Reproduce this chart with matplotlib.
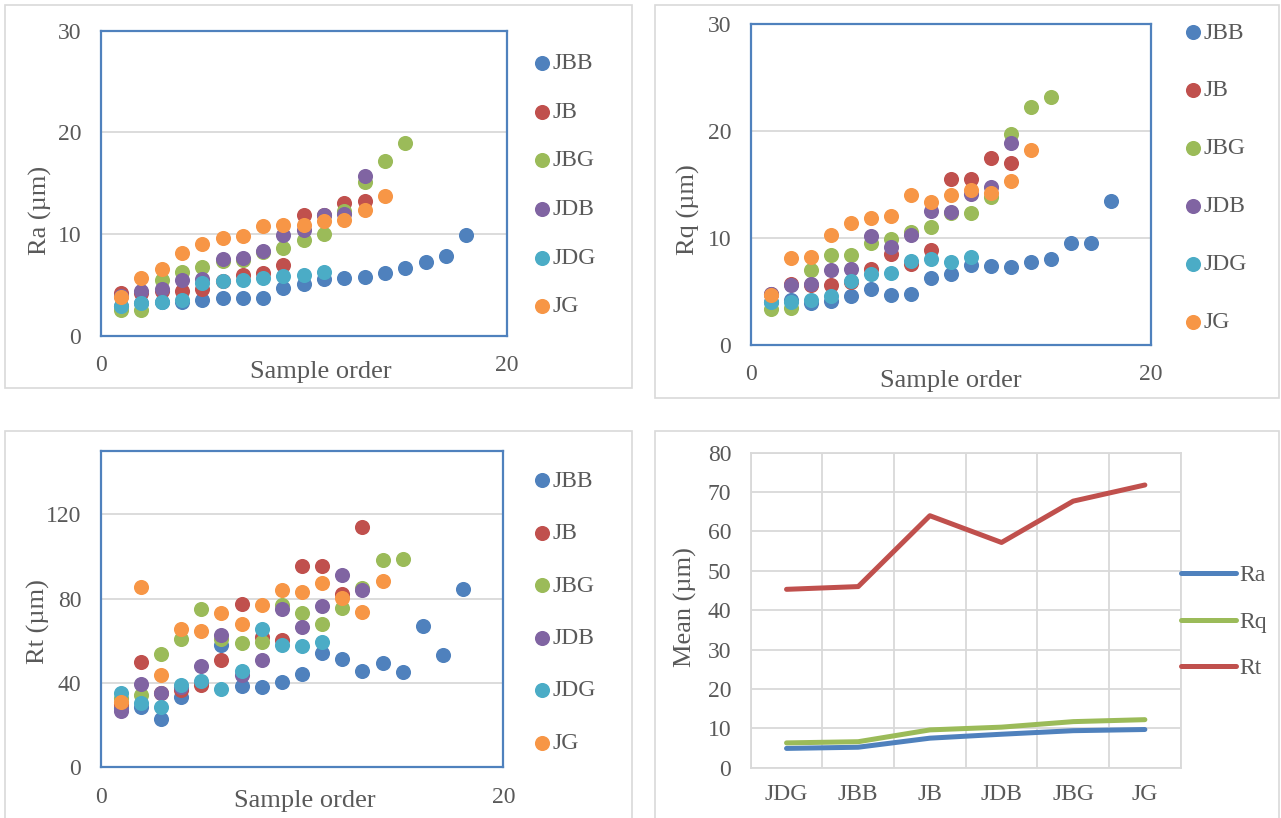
import matplotlib
matplotlib.use("Agg")
import matplotlib.pyplot as plt
from matplotlib.patches import Rectangle
import numpy as np

plt.rcParams['font.family'] = ['Liberation Serif', 'DejaVu Serif']

W, H = 1281, 818
GRAY = '#595959'
GRID = '#d9d9d9'
BOX = '#4f81bd'

groups = ["JBB", "JB", "JBG", "JDB", "JDG", "JG"]
colors = ["#4F81BD", "#C0504D", "#9BBB59", "#8064A2", "#4BACC6", "#F79646"]

# Ra per sample (sample order 1..n)
ra_jbb = [2.9, 3.2, 3.3, 3.3, 3.5, 3.7, 3.7, 3.7, 4.7, 5.1, 5.65, 5.7, 5.8, 6.2, 6.7, 7.25, 7.9, 9.9]
ra_jb = [4.2, 4.25, 4.4, 4.4, 4.6, 5.4, 6.0, 6.2, 7.0, 11.9, 11.9, 13.1, 13.3]
ra_jbg = [2.6, 2.6, 5.5, 6.3, 6.8, 7.4, 7.5, 8.3, 8.6, 9.4, 10.0, 12.25, 15.1, 17.2, 19.0]
ra_jdb = [3.9, 4.4, 4.6, 5.5, 5.65, 7.6, 7.7, 8.4, 9.9, 10.4, 11.9, 12.0, 15.7]
ra_jdg = [2.9, 3.2, 3.3, 3.5, 5.2, 5.4, 5.55, 5.7, 5.9, 6.0, 6.3]
ra_jg = [3.85, 5.7, 6.6, 8.2, 9.0, 9.6, 9.8, 10.8, 10.9, 10.95, 11.3, 11.4, 12.35, 13.75]

# Rq per sample
rq_jbb = [4.0, 4.2, 3.9, 4.1, 4.6, 5.2, 4.7, 4.8, 6.3, 6.6, 7.45, 7.4, 7.3, 7.8, 8.0, 9.5, 9.5, 13.5]
rq_jb = [4.8, 5.7, 5.6, 5.6, 5.9, 7.1, 8.5, 7.6, 8.85, 15.5, 15.5, 17.5, 17.0]
rq_jbg = [3.4, 3.5, 7.0, 8.4, 8.4, 9.5, 9.9, 10.6, 11.0, 12.3, 12.3, 13.8, 19.75, 22.2, 23.2]
rq_jdb = [4.8, 5.6, 5.7, 7.0, 7.1, 10.2, 9.2, 10.25, 12.5, 12.4, 14.1, 14.8, 18.9]
rq_jdg = [4.0, 4.0, 4.2, 4.6, 6.0, 6.6, 6.7, 7.85, 8.0, 7.75, 8.2]
rq_jg = [4.7, 8.1, 8.2, 10.3, 11.4, 11.9, 12.05, 14.05, 13.4, 14.0, 14.45, 14.2, 15.3, 18.2]

# Rt per sample
rt_jbb = [28, 28.8, 22.8, 33.5, 40.0, 58.0, 38.7, 38.3, 40.3, 44.1, 54.0, 51.2, 45.8, 49.6, 45.4, 67.2, 53.3, 84.5]
rt_jb = [30, 50.1, 35.0, 36.7, 39.0, 50.9, 77.4, 61.9, 60.6, 95.4, 95.4, 82.4, 114]
rt_jbg = [33, 34.3, 53.6, 60.8, 75.3, 60.7, 58.8, 59.2, 77.2, 73.0, 67.8, 75.7, 84.8, 98.2, 98.7]
rt_jdb = [26.9, 39.4, 35.1, 38.0, 48.0, 62.7, 43.8, 50.9, 74.9, 66.7, 76.4, 91.1, 84.0]
rt_jdg = [35.1, 30.4, 28.8, 39.1, 41.1, 37.0, 45.8, 65.4, 58.0, 57.5, 59.2]
rt_jg = [31.2, 85.6, 43.8, 65.4, 64.6, 73.0, 67.8, 77.2, 84.0, 83.2, 87.2, 80.1, 73.8, 88.4]

# means
mean_cats = ["JDG", "JBB", "JB", "JDB", "JBG", "JG"]
mean_ra = [4.9, 5.2, 7.5, 8.5, 9.4, 9.7]
mean_rq = [6.3, 6.6, 9.6, 10.3, 11.7, 12.2]
mean_rt = [45.3, 46.0, 64.0, 57.2, 67.7, 71.8]

fig = plt.figure(figsize=(W / 100, H / 100), dpi=100)


def px_axes(l, t, r, b):
    return fig.add_axes([l / W, 1 - b / H, (r - l) / W, (b - t) / H])


def panel(l, t, r, b):
    fig.patches.append(Rectangle((l / W, 1 - b / H), (r - l) / W, (b - t) / H,
                                 transform=fig.transFigure, fill=False,
                                 edgecolor=GRID, lw=1.2))


panel(4.5, 4.5, 631.5, 388.5)
panel(655, 4.5, 1279, 397.5)
panel(4.5, 431, 631.5, 822)
panel(655, 431, 1279, 822)


def scatter_panel(box, series, ymax, yticks, ylabel, ylab_xy, xlab_xy, leg_x, leg_y, spacing):
    l, t, r, b = box
    ax = px_axes(l, t, r, b)
    for name, vals, c in zip(groups, series, colors):
        x = np.arange(1, len(vals) + 1)
        ax.scatter(x, vals, s=118, color=c, linewidths=0, label=name, zorder=3)
    ax.set_xlim(0, 20)
    ax.set_ylim(0, ymax)
    ax.set_xticks([0, 20])
    ax.set_yticks(yticks)
    ax.yaxis.grid(True, color=GRID, lw=1.3, zorder=0)
    ax.set_axisbelow(True)
    for s in ax.spines.values():
        s.set_color(BOX)
        s.set_linewidth(1.6)
    ax.tick_params(length=0, labelsize=17, labelcolor=GRAY, pad=14)
    ax.set_ylabel(ylabel, fontsize=19, color=GRAY, va='center')
    ax.yaxis.set_label_coords((ylab_xy[0] - l) / (r - l), (b - ylab_xy[1]) / (b - t))
    ax.set_xlabel("Sample order", fontsize=19, color=GRAY, va='center')
    ax.xaxis.set_label_coords((xlab_xy[0] - l) / (r - l), (b - xlab_xy[1]) / (b - t))
    ax.legend(loc='center left', bbox_to_anchor=(leg_x / W, 1 - leg_y / H),
              bbox_transform=fig.transFigure, frameon=False, fontsize=17,
              labelcolor=GRAY, handlelength=0.7, handletextpad=0.1,
              labelspacing=spacing, borderpad=0, borderaxespad=0, scatterpoints=1)
    return ax


scatter_panel((100.7, 30.7, 506.7, 336),
              [ra_jbb, ra_jb, ra_jbg, ra_jdb, ra_jdg, ra_jg],
              30, [0, 10, 20, 30], "Ra (µm)", (40, 210), (321, 372), 533.4, 185, 1.15)
scatter_panel((750.7, 24, 1151, 345),
              [rq_jbb, rq_jb, rq_jbg, rq_jdb, rq_jdg, rq_jg],
              30, [0, 10, 20, 30], "Rq (µm)", (688, 210), (951, 381), 1184.4, 177.5, 1.54)
scatter_panel((100.7, 451, 503.3, 767.3),
              [rt_jbb, rt_jb, rt_jbg, rt_jdb, rt_jdg, rt_jg],
              150, [0, 40, 80, 120], "Rt (µm)", (38, 622), (305, 801), 533.4, 612, 1.31)

# mean line chart
l, t, r, b = 750.7, 452.7, 1180.7, 767.7
ax = px_axes(l, t, r, b)
xs = np.arange(len(mean_cats))
for vals, c, name in [(mean_ra, colors[0], "Ra"), (mean_rq, colors[2], "Rq"), (mean_rt, colors[1], "Rt")]:
    ax.plot(xs, vals, color=c, lw=3.6, solid_capstyle='round', label=name, zorder=3)
ax.set_xlim(-0.5, len(mean_cats) - 0.5)
ax.set_ylim(0, 80)
ax.set_yticks(np.arange(0, 81, 10))
ax.set_xticks(xs)
ax.set_xticklabels(mean_cats)
ax.set_xticks(np.arange(-0.5, len(mean_cats), 1), minor=True)
ax.yaxis.grid(True, color=GRID, lw=1.3, zorder=0)
ax.xaxis.grid(True, which='minor', color=GRID, lw=1.3, zorder=0)
ax.set_axisbelow(True)
for s in ax.spines.values():
    s.set_color(GRID)
    s.set_linewidth(1.3)
ax.tick_params(which='both', length=0, labelsize=17, labelcolor=GRAY)
ax.tick_params(axis='y', pad=14)
ax.tick_params(axis='x', pad=12)
ax.set_ylabel("Mean (µm)", fontsize=19, color=GRAY, va='center')
ax.yaxis.set_label_coords((685 - l) / (r - l), (b - 607) / (b - t))
ax.legend(loc='center left', bbox_to_anchor=(1180.7 / W, 1 - 622 / H),
          bbox_transform=fig.transFigure, frameon=False, fontsize=17,
          labelcolor=GRAY, handlelength=2.33, handletextpad=0.14,
          labelspacing=1.06, borderpad=0, borderaxespad=0)

fig.savefig("out.png", dpi=100)
